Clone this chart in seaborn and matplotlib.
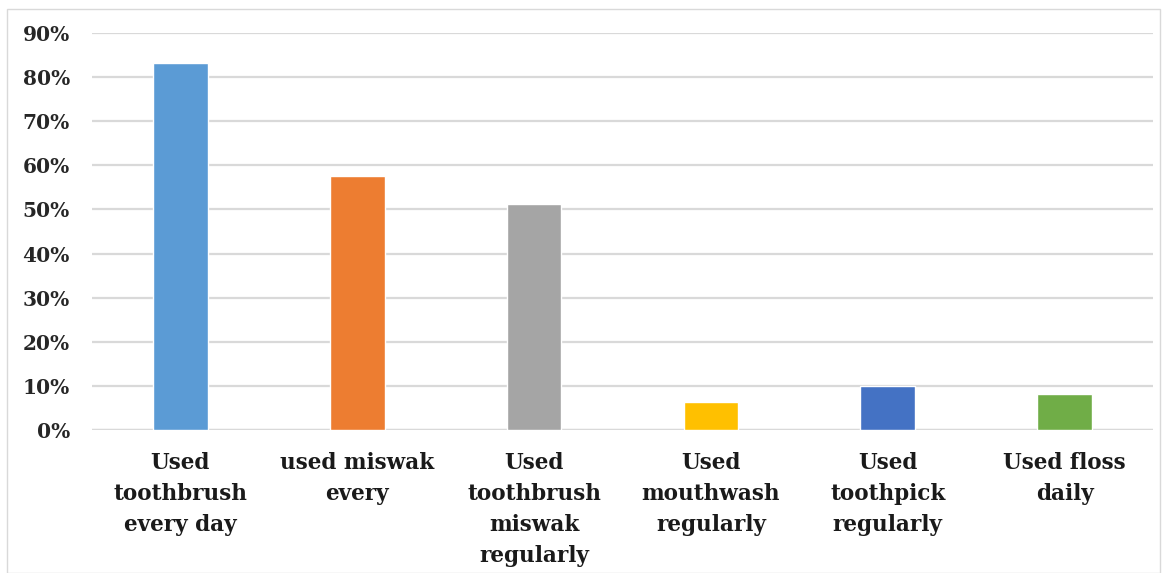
import matplotlib
matplotlib.use("Agg")
import matplotlib.pyplot as plt
import seaborn as sns
import pandas as pd
from matplotlib.ticker import PercentFormatter
from matplotlib.patches import Rectangle

categories = [
    "Used\ntoothbrush\nevery day",
    "used miswak\nevery",
    "Used\ntoothbrush\nmiswak\nregularly",
    "Used\nmouthwash\nregularly",
    "Used\ntoothpick\nregularly",
    "Used floss\ndaily",
]
values = [0.833, 0.576, 0.512, 0.063, 0.100, 0.082]
colors = ["#5B9BD5", "#ED7D31", "#A5A5A5", "#FFC000", "#4472C4", "#70AD47"]
y_ticks = [0, 0.1, 0.2, 0.3, 0.4, 0.5, 0.6, 0.7, 0.8, 0.9]

sns.set_style("white")
plt.rcParams["font.family"] = ["DejaVu Serif"]

df = pd.DataFrame({"category": categories, "share": values})

fig = plt.figure(figsize=(11.63, 5.73), dpi=100)
ax = fig.add_axes([92 / 1163, 143 / 573, (1153 - 92) / 1163, (430 - 33) / 573])

sns.barplot(data=df, x="category", y="share", hue="category",
            palette=colors, width=0.31, legend=False, ax=ax, saturation=1)

ax.set_ylim(0, 0.9)
ax.set_xlim(-0.5, len(categories) - 0.5)
ax.set_yticks(y_ticks)
ax.yaxis.set_major_formatter(PercentFormatter(1.0, decimals=0))
ax.yaxis.grid(True, color="#D9D9D9", linewidth=1.6)
ax.set_axisbelow(True)
for s in ax.spines.values():
    s.set_visible(False)
ax.axhline(0, color="#D0D0D0", linewidth=1.6, zorder=0.5)

ax.set_xlabel("")
ax.set_ylabel("")
ax.tick_params(axis="y", length=0, pad=16, labelsize=14.5, labelcolor="#262626")
ax.tick_params(axis="x", length=0, pad=16, labelsize=15.5, labelcolor="#1a1a1a")
for lab in ax.get_yticklabels() + ax.get_xticklabels():
    lab.set_fontweight("bold")
plt.setp(ax.get_xticklabels(), linespacing=1.52, va="top", ha="center")

# light frame around the chart area
fig.patches.append(Rectangle((7 / 1163, 0), (1160 - 7) / 1163, 1 - 9 / 573,
                             transform=fig.transFigure, fill=False,
                             edgecolor="#D9D9D9", linewidth=1))

fig.savefig("out.png", dpi=100, facecolor="white")
